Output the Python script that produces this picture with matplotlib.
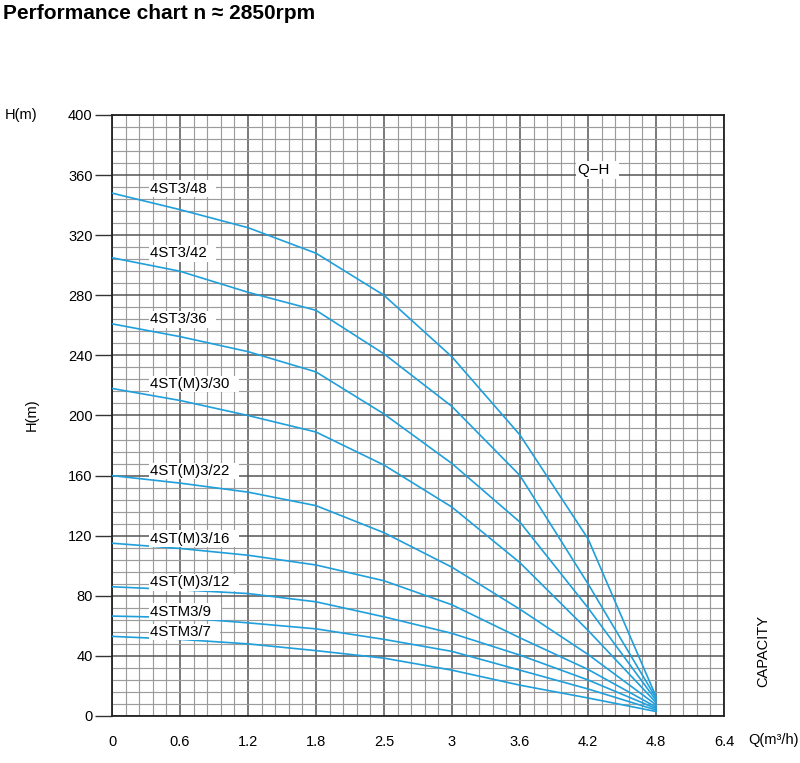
import numpy as np
import matplotlib
matplotlib.use("Agg")
import matplotlib.pyplot as plt
from matplotlib.ticker import FixedLocator, NullFormatter

plt.rcParams['font.family'] = ['Liberation Sans', 'DejaVu Sans']

# flow points (m3/h) and tick labels of the uneven Q axis
q_ticks = [0, 0.6, 1.2, 1.8, 2.5, 3, 3.6, 4.2, 4.8, 6.4]
q_labels = ["0", "0.6", "1.2", "1.8", "2.5", "3", "3.6", "4.2", "4.8", "6.4"]
q = [0, 0.6, 1.2, 1.8, 2.5, 3, 3.6, 4.2, 4.8]

# head (m) per pump model
models = ["4ST3/48", "4ST3/42", "4ST3/36", "4ST(M)3/30", "4ST(M)3/22",
          "4ST(M)3/16", "4ST(M)3/12", "4STM3/9", "4STM3/7"]
h_48 = [348, 337, 325, 308, 280, 239, 187, 118, 13]
h_42 = [305, 296, 282, 270, 241, 206, 160, 88, 12]
h_36 = [261, 252.5, 242.5, 229, 201, 168, 129, 72, 10.5]
h_30 = [218, 210, 200, 189, 167, 139, 102, 57, 9]
h_22 = [160, 155, 149, 140, 122, 99, 71, 41, 7.5]
h_16 = [115, 111.5, 107, 100.5, 90, 74, 52, 31, 6]
h_12 = [86, 84, 81.5, 76, 66, 55, 40.5, 24, 5]
h_9 = [66.5, 65.5, 62, 58, 51, 43, 30.5, 18, 4]
h_7 = [53, 51, 48, 43.5, 38.5, 30.5, 20.5, 12, 3]
heads = [h_48, h_42, h_36, h_30, h_22, h_16, h_12, h_9, h_7]

blue = "#1f9fdb"

idx = np.arange(len(q_ticks))


def fwd(v):
    return np.interp(v, q_ticks, idx)


def inv(u):
    return np.interp(u, idx, q_ticks)


fig = plt.figure(figsize=(8, 7.63), dpi=100)
ax = fig.add_axes([0.14, 0.0616, 0.765, 0.7877])
ax.set_xscale('function', functions=(fwd, inv))
ax.set_xlim(0, 6.4)
ax.set_ylim(0, 400)

ax.xaxis.set_major_locator(FixedLocator(q_ticks))
ax.set_xticklabels(q_labels)
ax.xaxis.set_minor_locator(FixedLocator(inv(np.arange(0, 9.01, 0.2))))
ax.xaxis.set_minor_formatter(NullFormatter())
ax.set_yticks(np.arange(0, 401, 40))
ax.yaxis.set_minor_locator(FixedLocator(np.arange(0, 401, 8)))

ax.tick_params(axis='x', which='both', length=0, pad=14, labelsize=10.5)
ax.tick_params(axis='y', which='major', length=12, width=1, color='#333',
               pad=2, labelsize=10.5)
ax.tick_params(axis='y', which='minor', length=0)

ax.set_axisbelow(True)
ax.grid(which='minor', color='#9c9c9c', lw=0.85)
ax.grid(which='major', color='#555555', lw=1.1)
for s in ax.spines.values():
    s.set_color('#222')
    s.set_linewidth(1.3)

for name, h in zip(models, heads):
    ax.plot(q, h, color=blue, lw=1.2, zorder=3)
    ax.text(0.335, h[0] + 3, name + "  ", fontsize=10.8, va='center',
            ha='left', zorder=4, bbox=dict(fc='white', ec='none', pad=1.0))

ax.text(0.761, 0.9085, "Q\u2212H  ", transform=ax.transAxes, fontsize=10.8,
        va='center', ha='left', zorder=4,
        bbox=dict(fc='white', ec='none', pad=1.5))

fig.text(0.004, 0.995, "Performance chart n \u2248 2850rpm", fontsize=15,
         fontweight='bold', va='top', ha='left')
fig.text(0.006, 1 - 115 / 763, "H(m)", fontsize=10.5, va='center', ha='left')
fig.text(32 / 800, 1 - 415 / 763, "H(m)", fontsize=10.5, rotation=90,
         va='center', ha='center')
fig.text(763 / 800, 1 - 651 / 763, "CAPACITY", fontsize=10.5, rotation=90,
         va='center', ha='center')
fig.text(748 / 800, 1 - 740 / 763, "Q(m\u00b3/h)", fontsize=10.5,
         va='center', ha='left')

fig.savefig("out.png", dpi=100)
